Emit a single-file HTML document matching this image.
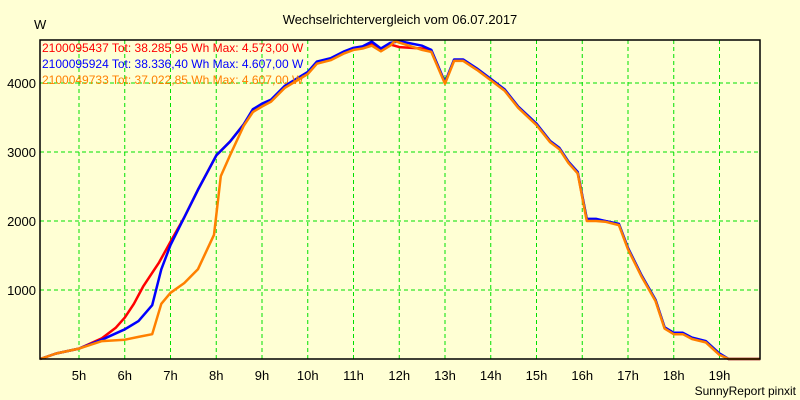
<!DOCTYPE html>
<html><head><meta charset="utf-8"><style>
body{margin:0;background:#ffffd4;}
svg{display:block;font-family:"Liberation Sans",sans-serif;}
</style></head><body>
<svg id="c" width="800" height="400">
<rect width="800" height="400" fill="#ffffd4"/>
<text x="400" y="24" text-anchor="middle" font-size="13">Wechselrichtervergleich vom 06.07.2017</text>
<text x="34" y="29" font-size="13">W</text>
<text x="796" y="395" text-anchor="end" font-size="12">SunnyReport pinxit</text>
<g id="grid"></g><g id="series"></g>
<rect x="40" y="40" width="720" height="319" fill="none" stroke="#000" stroke-width="1.5"/>
<g id="axes"></g>
<g font-size="12">
<text x="42" y="52" fill="#ff0000">2100095437 Tot: 38.285,95 Wh Max: 4.573,00 W</text>
<text x="42" y="68" fill="#0000ff">2100095924 Tot: 38.336,40 Wh Max: 4.607,00 W</text>
<text x="42" y="84" fill="#ff8000">2100049733 Tot: 37.022,85 Wh Max: 4.607,00 W</text>
</g>
</svg>
<script>
const xTicks=[5,6,7,8,9,10,11,12,13,14,15,16,17,18,19];
const yTicks=[1000,2000,3000,4000];
const redT=[4.15,4.5,5,5.5,5.8,6,6.2,6.4,6.6,6.75,7,7.3,7.6,7.8,8,8.3,8.6,8.8,9,9.2,9.5,10,10.2,10.5,10.8,11,11.2,11.4,11.6,11.8,12,12.5,12.7,13,13.2,13.4,13.7,14,14.3,14.6,15,15.3,15.5,15.7,15.9,16.1,16.3,16.5,16.8,17,17.3,17.6,17.8,18,18.2,18.4,18.7,19,19.2,19.89];
const redV=[0,80,150,300,450,600,800,1050,1250,1400,1700,2050,2450,2700,2950,3150,3400,3600,3680,3750,3950,4150,4300,4350,4450,4500,4520,4573,4480,4560,4520,4500,4470,4000,4330,4330,4200,4050,3900,3650,3400,3150,3050,2850,2700,2020,2020,2000,1950,1600,1200,850,450,370,370,300,250,70,0,0];
const blueT=[4.15,4.5,5,5.5,6,6.3,6.6,6.8,7,7.3,7.6,7.8,8,8.3,8.6,8.8,9,9.2,9.5,10,10.2,10.5,10.8,11,11.2,11.4,11.6,11.8,12,12.5,12.7,13,13.2,13.4,13.7,14,14.3,14.6,15,15.3,15.5,15.7,15.9,16.1,16.3,16.5,16.8,17,17.3,17.6,17.8,18,18.2,18.4,18.7,19,19.2,19.89];
const blueV=[0,80,150,280,430,550,780,1300,1650,2050,2450,2700,2950,3150,3400,3620,3700,3760,3960,4160,4310,4360,4460,4510,4530,4600,4500,4580,4607,4540,4480,4010,4340,4340,4210,4060,3910,3660,3410,3160,3060,2860,2710,2030,2030,2000,1960,1610,1210,860,460,380,380,310,260,80,0,0];
const orangeT=[4.15,4.5,5,5.5,6,6.3,6.6,6.8,7,7.3,7.6,7.95,8.1,8.3,8.6,8.8,9,9.2,9.5,10,10.2,10.5,10.8,11,11.2,11.4,11.6,11.8,11.9,12.5,12.7,13,13.2,13.4,13.7,14,14.3,14.6,15,15.3,15.5,15.7,15.9,16.1,16.3,16.5,16.8,17,17.3,17.6,17.8,18,18.2,18.4,18.7,19,19.2,19.89];
const orangeV=[0,80,150,260,280,320,360,800,960,1100,1300,1800,2650,2950,3380,3580,3660,3730,3930,4130,4280,4330,4430,4480,4500,4540,4460,4540,4607,4480,4450,3990,4320,4320,4190,4040,3890,3640,3390,3140,3040,2840,2690,2000,2000,1990,1940,1590,1190,840,440,360,360,290,240,60,0,0];
const X=t=>79+(t-5)*45.75, Y=v=>359-v*0.069;
const NS="http://www.w3.org/2000/svg";
const grid=document.getElementById('grid'),axes=document.getElementById('axes'),ser=document.getElementById('series');
function mk(tag,attrs,parent){const e=document.createElementNS(NS,tag);for(const k in attrs)e.setAttribute(k,attrs[k]);parent.appendChild(e);return e;}
xTicks.forEach(t=>{
 const l=mk('line',{x1:X(t),x2:X(t),y1:40,y2:359,stroke:'#00e000','stroke-dasharray':'4,3'},grid);
 
 
 const tx=mk('text',{x:X(t),y:380,'text-anchor':'middle','font-size':13},axes);tx.textContent=t+'h';
 
 
});
yTicks.forEach(v=>{
 const l=mk('line',{x1:40,x2:760,y1:Y(v),y2:Y(v),stroke:'#00e000','stroke-dasharray':'4,3'},grid);
 
 
 const tx=mk('text',{x:36,y:Y(v)+5,'text-anchor':'end','font-size':13},axes);tx.textContent=v;
 
 
});
[[redT,redV,'#ff0000','series-red'],[blueT,blueV,'#0000ff','series-blue'],[orangeT,orangeV,'#ff8000','series-orange']].forEach(([T,V,c,n])=>{
 const p=mk('polyline',{points:T.map((t,i)=>X(t).toFixed(1)+','+Y(V[i]).toFixed(1)).join(' '),fill:'none',stroke:c,'stroke-width':2.5,'stroke-linejoin':'round'},ser);
 
 
});
</script>
</body></html>
